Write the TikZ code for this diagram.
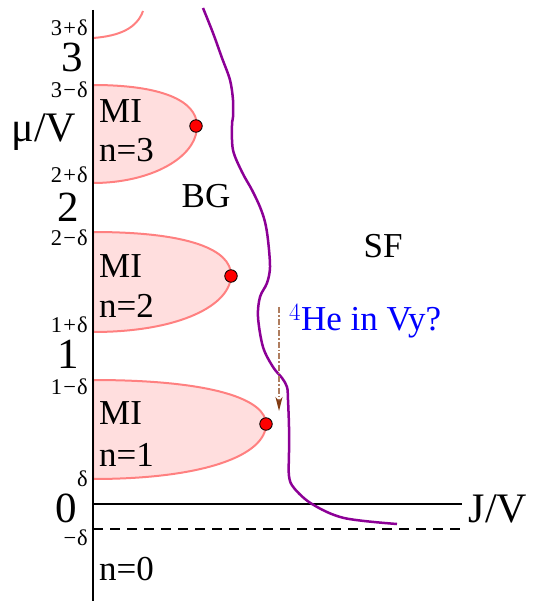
\documentclass[tikz,border=0pt]{standalone}
\usepackage{fontspec}
\setmainfont{Liberation Serif}
\usetikzlibrary{arrows.meta}
\definecolor{lobefill}{RGB}{255,222,222}
\definecolor{lobeline}{RGB}{255,128,128}
\definecolor{bgline}{RGB}{140,0,150}
\definecolor{arrcol}{RGB}{175,125,95}
\definecolor{arrhead}{RGB}{130,60,20}
\newcommand{\tk}[2]{#1\kern1.5pt#2\kern1pt δ}
\begin{document}
\begin{tikzpicture}[x=1pt,y=-1pt,
  lobe/.style={fill=lobefill, draw=lobeline, line width=2pt},
  crit/.style={circle, fill=red, draw=black, line width=0.8pt, minimum size=12.5pt, inner sep=0pt},
  bignum/.style={font=\fontsize{43}{43}\selectfont, inner sep=0pt, anchor=base},
  tick/.style={font=\fontsize{22.5}{22.5}\selectfont, inner sep=0pt, anchor=base east},
  lab/.style={font=\fontsize{35}{35}\selectfont, inner sep=0pt, anchor=base west},
  region/.style={font=\fontsize{35}{35}\selectfont, inner sep=0pt, anchor=base},
  axisline/.style={line width=1.2pt},
  bgcurve/.style={bgline, line width=2.5pt},
  query/.style={arrcol, line width=1.6pt, dash pattern=on 6pt off 2pt on 1.5pt off 2pt,
    -{Stealth[length=14pt,width=7pt,inset=4pt,color=arrhead]}}]
\useasboundingbox (0,0) rectangle (537,601);

% lobes
\path[lobe] (93,85) .. controls (160,85) and (197,100) .. (197,126)
  .. controls (197,158) and (150,183) .. (93,183) -- cycle;
\path[lobe] (93,232) .. controls (190,232) and (231,250) .. (231,275)
  .. controls (231,305) and (180,332) .. (93,332) -- cycle;
\path[lobe] (93,380) .. controls (215,380) and (266,400) .. (266,424)
  .. controls (266,455) and (205,479) .. (93,479) -- cycle;
\draw[lobeline, line width=2pt] (93,38) .. controls (120,36) and (137,28) .. (143,11);

% axes
\draw[axisline] (93,10) -- (93,601);
\draw[axisline] (93,504) -- (462,504);
\draw[line width=2pt, dash pattern=on 10pt off 7pt] (93,529) -- (460,529);

% BG-SF boundary
\draw[bgcurve] plot[smooth, tension=0.55] coordinates {
 (203,8) (213,33) (222,58) (230,80) (233,100) (233,117) (232,125) (233,150)
 (242,172) (252,190) (260,207) (265,222) (268,240) (270,267) (267,283)
 (260,297) (258,317) (263,347) (273,367) (282,378) (287,387) (288,400)
 (289,427) (289,452) (289,476) (294,488) (312,504) (344,518) (397,524)};

% critical points
\node[crit] (c3) at (196,126) {};
\node[crit] (c2) at (231,276) {};
\node[crit] (c1) at (266,424) {};

% arrow
\coordinate (aS) at (279,307);
\coordinate (aE) at (279,411);
\draw[query] (aS) -- (aE);

% tick labels
\node[tick] (t3p) at (88,36) {\tk{3}{+}};
\node[bignum] (n3) at (72,72) {3};
\node[tick] (t3m) at (88,98) {\tk{3}{−}};
\node[tick] (t2p) at (88,183) {\tk{2}{+}};
\node[bignum] (n2) at (68,222) {2};
\node[tick] (t2m) at (88,246) {\tk{2}{−}};
\node[tick] (t1p) at (88,332) {\tk{1}{+}};
\node[bignum] (n1) at (68,368) {1};
\node[tick] (t1m) at (88,394) {\tk{1}{−}};
\node[tick] (td) at (88,486) {δ};
\node[bignum] (n0) at (66,522) {0};
\node[tick] (tmd) at (88,545) {−\kern1pt δ};
\node[font=\fontsize{42}{42}\selectfont, inner sep=0pt, anchor=base] (mu) at (44,142) {μ/V};
\node[font=\fontsize{42}{42}\selectfont, inner sep=0pt, anchor=base] (jv) at (498,522) {J/V};

% region labels
\node[lab] (mi3) at (99,123) {MI};
\node[lab] (n3l) at (99,162) {n=3};
\node[lab] (mi2) at (99,277) {MI};
\node[lab] (n2l) at (99,317) {n=2};
\node[lab] (mi1) at (99,424) {MI};
\node[lab] (n1l) at (99,466) {n=1};
\node[lab] (n0l) at (99,580) {n=0};
\node[region] (bg) at (206,208) {BG};
\node[region] (sf) at (383,257) {SF};
\node[font=\fontsize{35}{35}\selectfont, inner sep=0pt, anchor=base west, text=blue] (he) at (289,330) {$^{4}$He in Vy?};
\end{tikzpicture}
\end{document}
